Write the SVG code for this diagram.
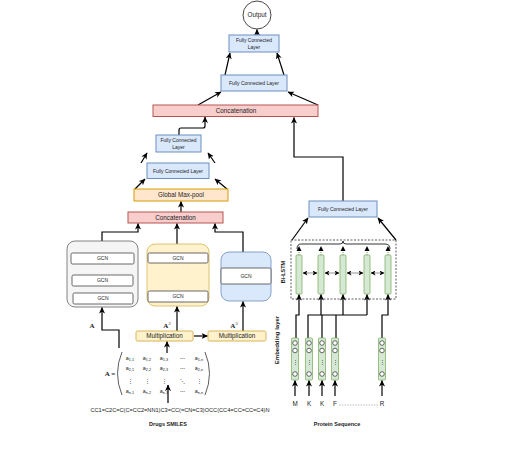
<svg xmlns="http://www.w3.org/2000/svg" width="526" height="456" viewBox="0 0 526 456">
<defs>
<marker id="ah" markerUnits="userSpaceOnUse" markerWidth="7" markerHeight="7" refX="6" refY="3.5" orient="auto">
<path d="M0,0.5 L6.5,3.5 L0,6.5 L1.8,3.5 z" fill="#000"/>
</marker>
<marker id="ahs" markerUnits="userSpaceOnUse" markerWidth="5" markerHeight="5" refX="4.5" refY="2.5" orient="auto-start-reverse">
<path d="M0,0 L5,2.5 L0,5 L1.3,2.5 z" fill="#000"/>
</marker>
<style>
text{font-family:"Liberation Sans",Arial,sans-serif;fill:#222;}
.fc{fill:#dae8fc;stroke:#6c8ebf;stroke-width:1;}
.cat{fill:#f8cecc;stroke:#b85450;stroke-width:1;}
.gmp{fill:#ffe6cc;stroke:#d79b00;stroke-width:1;}
.mul{fill:#fff2cc;stroke:#d6b656;stroke-width:1;}
.gcn{fill:#fff;stroke:#444;stroke-width:0.8;}
.grn{fill:#d5e8d4;stroke:#82b366;stroke-width:0.8;}
.ln{fill:none;stroke:#000;stroke-width:1.2;marker-end:url(#ah);}
.pl{fill:none;stroke:#000;stroke-width:1.2;}
.t5{font-size:5px;text-anchor:middle;}
.t6{font-size:6.3px;text-anchor:middle;}
.m{font-family:"Liberation Sans",Arial,sans-serif;font-size:5.4px;text-anchor:middle;fill:#222;}
.circ{fill:#fff;stroke:#444;stroke-width:0.8;}
</style>
</defs>

<g id="connectors">
<path class="ln" d="M257,35 V29.5"/>
<path class="ln" d="M225,75 L230,53"/>
<path class="ln" d="M284,75 L277,53"/>
<path class="ln" d="M198,105 L221,92"/>
<path class="ln" d="M318,105 L288,92"/>
<path class="ln" d="M179,135 V130 Q179,128 181,128 H203 Q205,128 205,126 V117"/>
<path class="ln" d="M141,163 L147,153"/>
<path class="ln" d="M215,163 L208,153"/>
<path class="ln" d="M135,189 L145,179"/>
<path class="ln" d="M227,189 L215,179"/>
<path class="ln" d="M181,212 V201.5"/>
<path class="ln" d="M102,241 V232 H138 V223.5"/>
<path class="ln" d="M177,244 V223.5"/>
<path class="ln" d="M243,252 V232 H215 V223.5"/>
<path class="ln" d="M102,275 V264.5"/>
<path class="ln" d="M102,293 V286.5"/>
<path class="ln" d="M177,291 V263.5"/>
<path class="ln" d="M119,348 V330 H102 V307.5"/>
<path class="ln" d="M177,331 V306.5"/>
<path class="ln" d="M243,331 V301.5"/>
<path class="ln" d="M194,336 H207.5"/>
<path class="ln" d="M167,353 V341.5"/>
<path class="ln" d="M168,403 V385"/>
<path class="ln" d="M343,201 V157 H294 V117.5"/>
<path class="ln" d="M292,240 L308,218"/>
<path class="ln" d="M396,240 L378,218"/>
<path class="ln" d="M296,338 V315 H299 V294.5"/>
<path class="pl" d="M308,338 V315 H367"/>
<path class="pl" d="M322,338 V315"/>
<path class="pl" d="M336,338 V315"/>
<path class="ln" d="M321,315 V294.5"/>
<path class="ln" d="M343,315 V294.5"/>
<path class="ln" d="M367,315 V294.5"/>
<path class="ln" d="M382,338 V315 H388 V294.5"/>
<path class="ln" d="M295,396 V380.5"/>
<path class="ln" d="M309,396 V380.5"/>
<path class="ln" d="M322,396 V380.5"/>
<path class="ln" d="M335,396 V380.5"/>
<path class="ln" d="M382,396 V380.5"/>
<path fill="none" stroke="#000" stroke-width="0.8" d="M297,249 Q297,244 301,244 H340 Q343,244 343,241 Q343,244 346,244 H385 Q390,244 390,249"/>
<g stroke="#555" stroke-width="0.7" stroke-dasharray="1,1" fill="none">
<path d="M299,255 V249"/><path d="M321,255 V249"/><path d="M343,255 V249"/><path d="M367,255 V249"/><path d="M388,255 V249"/>
</g>
<g fill="#000">
<path d="M296.5,251 L299,246 L301.5,251 z"/>
<path d="M318.5,251 L321,246 L323.5,251 z"/>
<path d="M340.5,251 L343,246 L345.5,251 z"/>
<path d="M364.5,251 L367,246 L369.5,251 z"/>
<path d="M385.5,251 L388,246 L390.5,251 z"/>
</g>
<g stroke="#777" stroke-width="0.8" fill="none" marker-start="url(#ahs)" marker-end="url(#ahs)">
<path d="M303,273 H317"/><path d="M325,273 H339"/><path d="M347,273 H363"/><path d="M371,273 H384"/>
</g>
</g>

<g id="output"><circle cx="257" cy="15" r="14" fill="#fff" stroke="#333" stroke-width="0.9"/><text class="t6" x="257" y="17.3">Output</text></g>
<g id="fc-top"><rect class="fc" x="229" y="35" width="50" height="17"/><text class="t5" x="254" y="42.3">Fully Connected</text><text class="t5" x="254" y="49">Layer</text></g>
<g id="fc-mid"><rect class="fc" x="221" y="75" width="66" height="16"/><text class="t5" x="254" y="84.8">Fully Connected Layer</text></g>
<g id="concat-top"><rect class="cat" x="153" y="105" width="165" height="11.5"/><text class="t6" x="236" y="113">Concatenation</text></g>
<g id="fc-drug2"><rect class="fc" x="156" y="135" width="45" height="17"/><text class="t5" x="178.5" y="142.3">Fully Connected</text><text class="t5" x="178.5" y="149">Layer</text></g>
<g id="fc-drug1"><rect class="fc" x="147" y="163" width="62" height="15.5"/><text class="t5" x="178" y="172.5">Fully Connected Layer</text></g>
<g id="gmp"><rect class="gmp" x="134" y="189" width="94" height="12"/><text class="t6" x="181" y="197.3">Global Max-pool</text></g>
<g id="concat-drug"><rect class="cat" x="128" y="212" width="95" height="11"/><text class="t6" x="175.5" y="219.8">Concatenation</text></g>

<g id="gcn1"><rect x="67" y="241" width="71" height="66" rx="8" fill="#f5f5f5" stroke="#666" stroke-width="0.8"/>
<rect class="gcn" x="71" y="253" width="63" height="11" rx="1.5"/><text class="t5" x="102.5" y="260.3">GCN</text>
<rect class="gcn" x="72" y="275" width="61" height="11" rx="1.5"/><text class="t5" x="102.5" y="282.3">GCN</text>
<rect class="gcn" x="73" y="293" width="60" height="11" rx="1.5"/><text class="t5" x="103" y="300.3">GCN</text></g>
<g id="gcn2"><rect x="147" y="244" width="62" height="62" rx="8" fill="#fff2cc" stroke="#d6b656" stroke-width="0.8"/>
<rect class="gcn" x="148" y="253" width="60" height="10" rx="1.5"/><text class="t5" x="178" y="259.8">GCN</text>
<rect class="gcn" x="148" y="291" width="60" height="11" rx="1.5"/><text class="t5" x="178" y="298.3">GCN</text></g>
<g id="gcn3"><rect x="221" y="252" width="50" height="49" rx="8" fill="#dae8fc" stroke="#6c8ebf" stroke-width="0.8"/>
<rect class="gcn" x="221" y="268" width="50" height="16" rx="1.5"/><text class="t5" x="246" y="277.8">GCN</text></g>

<g id="labels-A">
<text x="92" y="328" style="font-family:'Liberation Serif',serif;font-size:7px;font-weight:bold;text-anchor:middle">A</text>
<text x="167" y="328" style="font-family:'Liberation Serif',serif;font-size:7px;font-weight:bold;text-anchor:middle">A<tspan font-size="4.5" dy="-3.5" font-weight="normal">2</tspan></text>
<text x="234" y="328" style="font-family:'Liberation Serif',serif;font-size:7px;font-weight:bold;text-anchor:middle">A<tspan font-size="4.5" dy="-3.5" font-weight="normal">3</tspan></text>
</g>

<g id="mult1"><rect class="mul" x="136" y="331" width="57" height="10" rx="1.5"/><text class="t6" x="164.5" y="338.3">Multiplication</text></g>
<g id="mult2"><rect class="mul" x="208" y="331" width="58" height="10" rx="1.5"/><text class="t6" x="237" y="338.3">Multiplication</text></g>

<g id="matrix">
<text x="110" y="376" style="font-family:'Liberation Serif',serif;font-size:7px;font-weight:bold;text-anchor:middle">A =</text>
<path d="M122,352 Q113,373.5 122,395" fill="none" stroke="#333" stroke-width="0.8"/>
<path d="M205,352 Q214,373.5 205,395" fill="none" stroke="#333" stroke-width="0.8"/>
<text class="m" x="130" y="360">a<tspan font-size="3.8" dy="1">1,1</tspan></text>
<text class="m" x="147" y="360">a<tspan font-size="3.8" dy="1">1,2</tspan></text>
<text class="m" x="164" y="360">a<tspan font-size="3.8" dy="1">1,3</tspan></text>
<text class="m" x="182" y="360">⋯</text>
<text class="m" x="199" y="360">a<tspan font-size="3.8" dy="1">1,n</tspan></text>
<text class="m" x="130" y="370">a<tspan font-size="3.8" dy="1">2,1</tspan></text>
<text class="m" x="147" y="370">a<tspan font-size="3.8" dy="1">2,2</tspan></text>
<text class="m" x="164" y="370">a<tspan font-size="3.8" dy="1">2,3</tspan></text>
<text class="m" x="182" y="370">⋯</text>
<text class="m" x="199" y="370">a<tspan font-size="3.8" dy="1">2,n</tspan></text>
<text class="m" x="130" y="383">⋮</text>
<text class="m" x="147" y="383">⋮</text>
<text class="m" x="164" y="383">⋮</text>
<text class="m" x="182" y="383">⋱</text>
<text class="m" x="199" y="383">⋮</text>
<text class="m" x="130" y="393">a<tspan font-size="3.8" dy="1">n,1</tspan></text>
<text class="m" x="147" y="393">a<tspan font-size="3.8" dy="1">n,2</tspan></text>
<text class="m" x="164" y="393">a<tspan font-size="3.8" dy="1">n,3</tspan></text>
<text class="m" x="182" y="393">⋯</text>
<text class="m" x="199" y="393">a<tspan font-size="3.8" dy="1">n,n</tspan></text>
</g>

<g id="smiles"><text x="180" y="412" style="font-size:5.6px;text-anchor:middle" textLength="179" lengthAdjust="spacingAndGlyphs">CC1=C2C=C(C=CC2=NN1)C3=CC(=CN=C3)OCC(CC4=CC=CC=C4)N</text>
<text x="168" y="426" style="font-size:5.5px;font-weight:bold;text-anchor:middle">Drugs SMILES</text></g>

<g id="fc-protein"><rect class="fc" x="309" y="201" width="68" height="16"/><text class="t5" x="343" y="210.8">Fully Connected Layer</text></g>

<g id="bilstm">
<rect x="291" y="240" width="105" height="59" fill="none" stroke="#333" stroke-width="0.8" stroke-dasharray="2,1.5"/>
<rect class="grn" x="296" y="255" width="6" height="39" rx="1"/>
<rect class="grn" x="318" y="255" width="6" height="39" rx="1"/>
<rect class="grn" x="340" y="255" width="6" height="39" rx="1"/>
<rect class="grn" x="364" y="255" width="6" height="39" rx="1"/>
<rect class="grn" x="385" y="255" width="6" height="39" rx="1"/>
<text transform="translate(285,272) rotate(-90)" style="font-size:5.5px;font-weight:bold;text-anchor:middle">Bi-LSTM</text>
</g>

<g id="embedding">
<text transform="translate(279,340) rotate(-90)" style="font-size:6px;font-weight:bold;text-anchor:middle">Embedding layer</text>
<g id="emb-M"><rect class="grn" x="291.5" y="338" width="7" height="42" rx="1"/><circle class="circ" cx="295" cy="343" r="2.3"/><circle class="circ" cx="295" cy="350.5" r="2.3"/><text class="t5" x="295" y="364">⋮</text><circle class="circ" cx="295" cy="374" r="2.3"/></g>
<g id="emb-K1"><rect class="grn" x="305.5" y="338" width="7" height="42" rx="1"/><circle class="circ" cx="309" cy="343" r="2.3"/><circle class="circ" cx="309" cy="350.5" r="2.3"/><text class="t5" x="309" y="364">⋮</text><circle class="circ" cx="309" cy="374" r="2.3"/></g>
<g id="emb-K2"><rect class="grn" x="318.5" y="338" width="7" height="42" rx="1"/><circle class="circ" cx="322" cy="343" r="2.3"/><circle class="circ" cx="322" cy="350.5" r="2.3"/><text class="t5" x="322" y="364">⋮</text><circle class="circ" cx="322" cy="374" r="2.3"/></g>
<g id="emb-F"><rect class="grn" x="331.5" y="338" width="7" height="42" rx="1"/><circle class="circ" cx="335" cy="343" r="2.3"/><circle class="circ" cx="335" cy="350.5" r="2.3"/><text class="t5" x="335" y="364">⋮</text><circle class="circ" cx="335" cy="374" r="2.3"/></g>
<g id="emb-R"><rect class="grn" x="378.5" y="338" width="7" height="42" rx="1"/><circle class="circ" cx="382" cy="343" r="2.3"/><circle class="circ" cx="382" cy="350.5" r="2.3"/><text class="t5" x="382" y="364">⋮</text><circle class="circ" cx="382" cy="374" r="2.3"/></g>
</g>

<g id="protein-seq">
<text class="t6" x="295" y="405.5">M</text>
<text class="t6" x="309" y="405.5">K</text>
<text class="t6" x="322" y="405.5">K</text>
<text class="t6" x="335" y="405.5">F</text>
<text class="t6" x="382" y="405.5">R</text>
<path d="M339,405 H379" stroke="#555" stroke-width="0.6" stroke-dasharray="0.6,1"/>
<text x="337" y="426" style="font-size:5.5px;font-weight:bold;text-anchor:middle">Protein Sequence</text>
</g>
</svg>
